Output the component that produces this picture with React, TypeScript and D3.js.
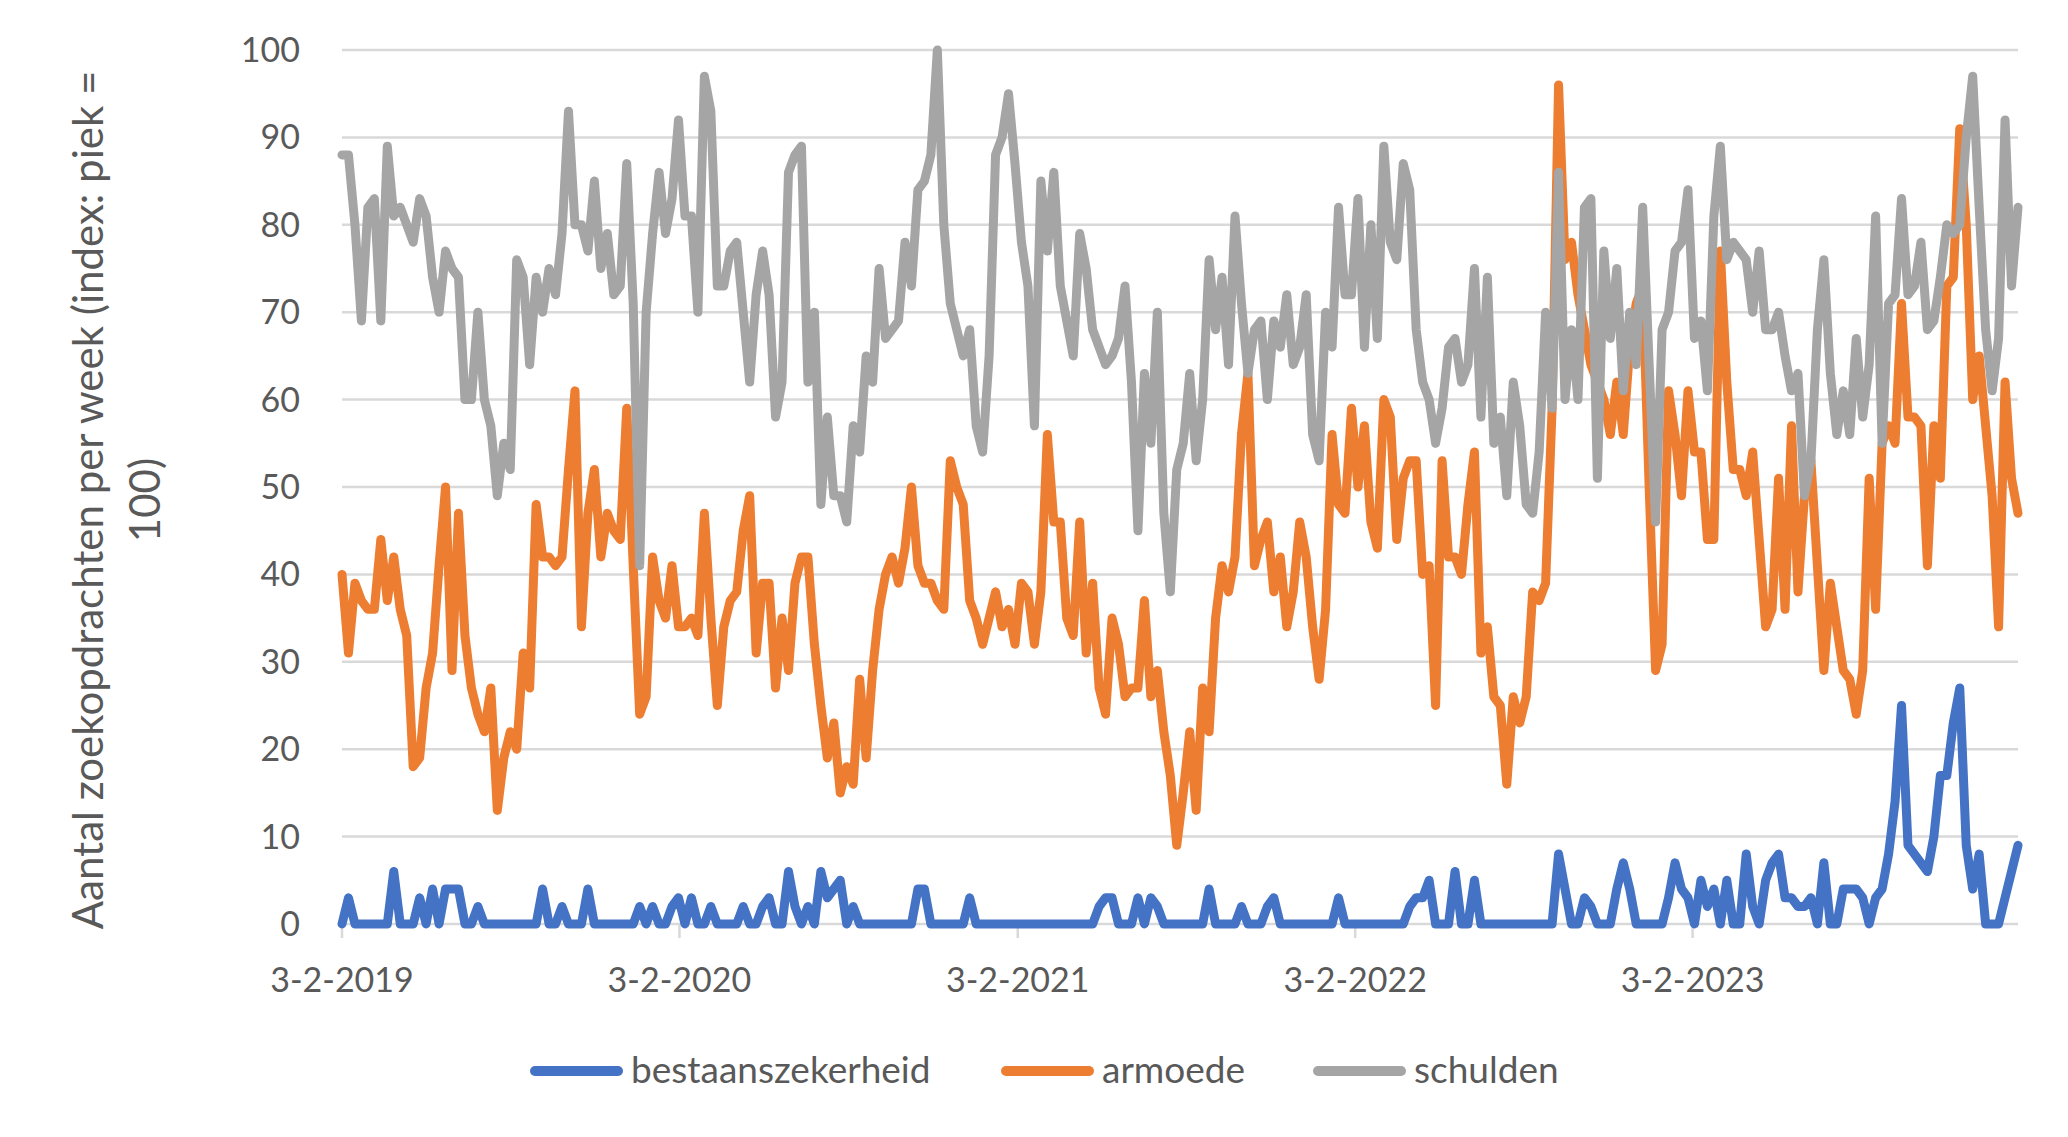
import * as d3 from "d3";

// Wekelijkse Google Trends-index (piek = 100), eerste week 3-2-2019
const firstWeek = "3-2-2019";
const xTickLabels = ["3-2-2019", "3-2-2020", "3-2-2021", "3-2-2022", "3-2-2023"];
const yTickValues = [0, 10, 20, 30, 40, 50, 60, 70, 80, 90, 100];
const yTitleLines = ["Aantal zoekopdrachten per week (index: piek =", "100)"];

const seriesNames = ["bestaanszekerheid", "armoede", "schulden"];
const seriesColors = ["#4472C4", "#ED7D31", "#A5A5A5"];

const bestaanszekerheid = [
  0, 3, 0, 0, 0, 0, 0, 0, 6, 0,
  0, 0, 3, 0, 4, 0, 4, 4, 4, 0,
  0, 2, 0, 0, 0, 0, 0, 0, 0, 0,
  0, 4, 0, 0, 2, 0, 0, 0, 4, 0,
  0, 0, 0, 0, 0, 0, 2, 0, 2, 0,
  0, 2, 3, 0, 3, 0, 0, 2, 0, 0,
  0, 0, 2, 0, 0, 2, 3, 0, 0, 6,
  2, 0, 2, 0, 6, 3, 4, 5, 0, 2,
  0, 0, 0, 0, 0, 0, 0, 0, 0, 4,
  4, 0, 0, 0, 0, 0, 0, 3, 0, 0,
  0, 0, 0, 0, 0, 0, 0, 0, 0, 0,
  0, 0, 0, 0, 0, 0, 0, 2, 3, 3,
  0, 0, 0, 3, 0, 3, 2, 0, 0, 0,
  0, 0, 0, 0, 4, 0, 0, 0, 0, 2,
  0, 0, 0, 2, 3, 0, 0, 0, 0, 0,
  0, 0, 0, 0, 3, 0, 0, 0, 0, 0,
  0, 0, 0, 0, 0, 2, 3, 3, 5, 0,
  0, 0, 6, 0, 0, 5, 0, 0, 0, 0,
  0, 0, 0, 0, 0, 0, 0, 0, 8, 4,
  0, 0, 3, 2, 0, 0, 0, 4, 7, 4,
  0, 0, 0, 0, 0, 3, 7, 4, 3, 0,
  5, 2, 4, 0, 5, 0, 0, 8, 2, 0,
  5, 7, 8, 3, 3, 2, 2, 3, 0, 7,
  0, 0, 4, 4, 4, 3, 0, 3, 4, 8,
  14, 25, 9, 8, 7, 6, 10, 17, 17, 23,
  27, 9, 4, 8, 0, 0, 0, 3, 6, 9,
];

const armoede = [
  40, 31, 39, 37, 36, 36, 44, 37, 42, 36,
  33, 18, 19, 27, 31, 41, 50, 29, 47, 33,
  27, 24, 22, 27, 13, 19, 22, 20, 31, 27,
  48, 42, 42, 41, 42, 52, 61, 34, 47, 52,
  42, 47, 45, 44, 59, 41, 24, 26, 42, 37,
  35, 41, 34, 34, 35, 33, 47, 35, 25, 34,
  37, 38, 45, 49, 31, 39, 39, 27, 35, 29,
  39, 42, 42, 32, 25, 19, 23, 15, 18, 16,
  28, 19, 29, 36, 40, 42, 39, 43, 50, 41,
  39, 39, 37, 36, 53, 50, 48, 37, 35, 32,
  35, 38, 34, 36, 32, 39, 38, 32, 38, 56,
  46, 46, 35, 33, 46, 31, 39, 27, 24, 35,
  32, 26, 27, 27, 37, 26, 29, 22, 17, 9,
  15, 22, 13, 27, 22, 35, 41, 38, 42, 56,
  63, 41, 44, 46, 38, 42, 34, 38, 46, 42,
  34, 28, 36, 56, 48, 47, 59, 50, 57, 46,
  43, 60, 58, 44, 51, 53, 53, 40, 41, 25,
  53, 42, 42, 40, 48, 54, 31, 34, 26, 25,
  16, 26, 23, 26, 38, 37, 39, 59, 96, 76,
  78, 72, 68, 64, 62, 60, 56, 62, 56, 66,
  71, 73, 50, 29, 32, 61, 56, 49, 61, 54,
  54, 44, 44, 77, 62, 52, 52, 49, 54, 44,
  34, 36, 51, 36, 57, 38, 49, 53, 41, 29,
  39, 34, 29, 28, 24, 29, 51, 36, 55, 57,
  55, 71, 58, 58, 57, 41, 57, 51, 73, 74,
  91, 80, 60, 65, 57, 49, 34, 62, 51, 47,
];

const schulden = [
  88, 88, 80, 69, 82, 83, 69, 89, 81, 82,
  80, 78, 83, 81, 74, 70, 77, 75, 74, 60,
  60, 70, 60, 57, 49, 55, 52, 76, 74, 64,
  74, 70, 75, 72, 79, 93, 80, 80, 77, 85,
  75, 79, 72, 73, 87, 71, 41, 70, 79, 86,
  79, 83, 92, 81, 81, 70, 97, 93, 73, 73,
  77, 78, 70, 62, 72, 77, 72, 58, 62, 86,
  88, 89, 62, 70, 48, 58, 49, 49, 46, 57,
  54, 65, 62, 75, 67, 68, 69, 78, 73, 84,
  85, 88, 100, 80, 71, 68, 65, 68, 57, 54,
  65, 88, 90, 95, 87, 78, 73, 57, 85, 77,
  86, 73, 69, 65, 79, 75, 68, 66, 64, 65,
  67, 73, 62, 45, 63, 55, 70, 47, 38, 52,
  55, 63, 53, 60, 76, 68, 74, 64, 81, 71,
  63, 68, 69, 60, 69, 66, 72, 64, 66, 72,
  56, 53, 70, 66, 82, 72, 72, 83, 66, 80,
  67, 89, 78, 76, 87, 84, 68, 62, 60, 55,
  59, 66, 67, 62, 64, 75, 58, 74, 55, 58,
  49, 62, 57, 48, 47, 54, 70, 59, 86, 60,
  68, 60, 82, 83, 51, 77, 67, 75, 61, 70,
  64, 82, 64, 46, 68, 70, 77, 78, 84, 67,
  69, 61, 81, 89, 76, 78, 77, 76, 70, 77,
  68, 68, 70, 65, 61, 63, 49, 53, 68, 76,
  63, 56, 61, 56, 67, 58, 64, 81, 55, 71,
  72, 83, 72, 73, 78, 68, 69, 74, 80, 79,
  80, 90, 97, 82, 68, 61, 67, 92, 73, 82,
];

const W = 2068;
const H = 1137;
const margin = { top: 50, right: 50, bottom: 213, left: 342 };
const font = "Lato, 'Open Sans', sans-serif";
const textColor = "#595959";
const gridColor = "#D9D9D9";
const legendX = [530, 1001, 1313];

export default function App() {
  const parse = d3.timeParse("%d-%m-%Y");
  const start = parse(firstWeek) as Date;
  const dates = schulden.map((_, i) => d3.timeDay.offset(start, i * 7));

  const x = d3
    .scaleTime()
    .domain([start, dates[dates.length - 1]])
    .range([margin.left, W - margin.right]);
  const y = d3
    .scaleLinear()
    .domain([0, 100])
    .range([H - margin.bottom, margin.top]);

  const line = d3
    .line<number>()
    .x((_, i) => x(dates[i]))
    .y((d) => y(d));

  const series = [bestaanszekerheid, armoede, schulden];
  const xTicks = xTickLabels.map((t) => ({ label: t, date: parse(t) as Date }));
  const y0 = y(0);

  return (
    <>
      <style>{`body{margin:0;background:#fff}`}</style>
      <svg width={W} height={H} style={{ display: "block", background: "#fff" }}>
        {/* gridlines */}
        <g>
          {yTickValues.map((v) => (
            <line
              key={v}
              x1={margin.left}
              x2={W - margin.right}
              y1={y(v)}
              y2={y(v)}
              stroke={gridColor}
              strokeWidth={2.5}
            />
          ))}
          {xTicks.map((t) => (
            <line
              key={t.label}
              x1={x(t.date)}
              x2={x(t.date)}
              y1={y0}
              y2={y0 + 14}
              stroke={gridColor}
              strokeWidth={2.5}
            />
          ))}
        </g>

        {/* y tick labels */}
        <g fontFamily={font} fontSize={34} fill={textColor} textAnchor="end">
          {yTickValues.map((v) => (
            <text key={v} x={margin.left - 42} y={y(v) + 12}>
              {v}
            </text>
          ))}
        </g>

        {/* x tick labels */}
        <g fontFamily={font} fontSize={34} fill={textColor} textAnchor="middle">
          {xTicks.map((t) => (
            <text key={t.label} x={x(t.date)} y={992}>
              {t.label}
            </text>
          ))}
        </g>

        {/* y axis title */}
        <g fontFamily={font} fontSize={42} fill={textColor} textAnchor="middle">
          {yTitleLines.map((l, i) => (
            <text key={i} transform={`translate(${103 + i * 57}, 500) rotate(-90)`}>
              {l}
            </text>
          ))}
        </g>

        {/* series */}
        <g fill="none" strokeLinejoin="round" strokeLinecap="round">
          {series.map((s, i) => (
            <path key={seriesNames[i]} d={line(s) ?? ""} stroke={seriesColors[i]} strokeWidth={9} />
          ))}
        </g>

        {/* legend */}
        <g fontFamily={font} fontSize={37} fill={textColor}>
          {seriesNames.map((n, i) => (
            <g key={n}>
              <line
                x1={legendX[i] + 5}
                x2={legendX[i] + 88}
                y1={1071}
                y2={1071}
                stroke={seriesColors[i]}
                strokeWidth={10}
                strokeLinecap="round"
              />
              <text x={legendX[i] + 101} y={1083}>
                {n}
              </text>
            </g>
          ))}
        </g>
      </svg>
    </>
  );
}
